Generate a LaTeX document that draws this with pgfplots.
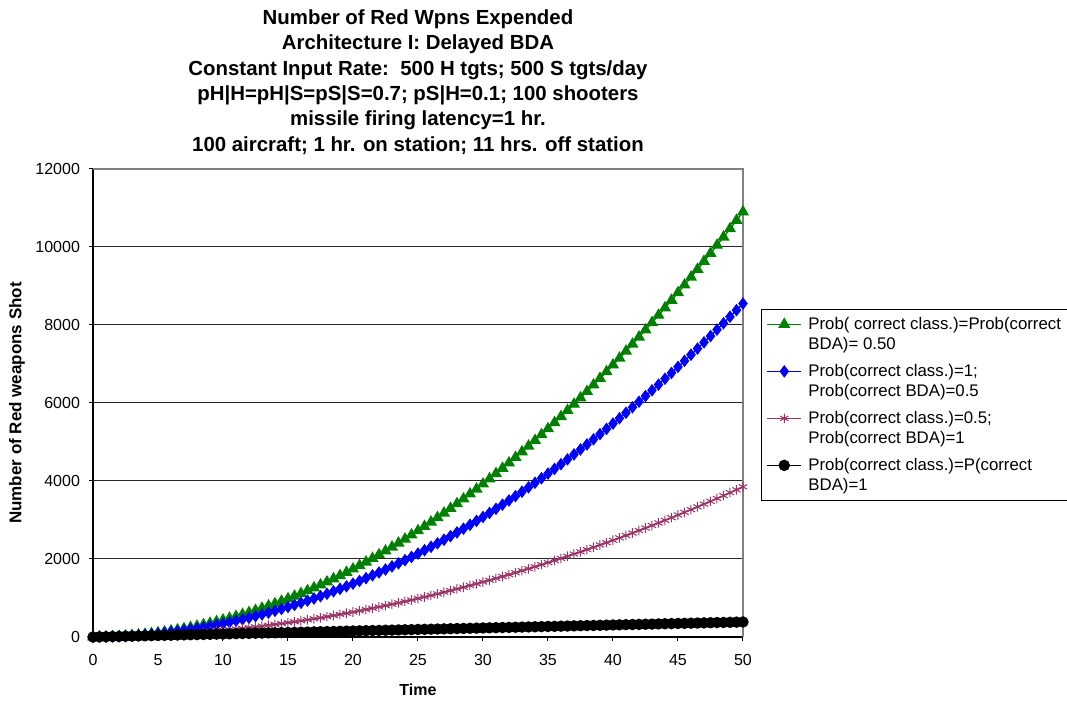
\documentclass[border=0pt]{standalone}
\usepackage{pgfplots}
\pgfplotsset{compat=1.18}
\usepackage{pgfplotstable}
\usepackage{fontspec}
\setmainfont{Liberation Sans}
\definecolor{exgreen}{RGB}{0,128,0}
\definecolor{exblue}{RGB}{0,0,255}
\definecolor{explum}{RGB}{153,51,102}
\pgfplotstableread{
x g b m k
0 0 0 0 0
0.5 1 1 1 4
1 4 3 4 8
1.5 10 8 6 12
2 17 14 10 15
2.5 27 21 14 19
3 39 31 20 23
3.5 53 42 25 27
4 70 55 32 31
4.5 88 69 39 35
5 109 86 48 39
5.5 132 103 56 42
6 157 123 66 46
6.5 184 144 76 50
7 214 168 88 54
7.5 245 192 99 58
8 279 219 112 62
8.5 315 247 125 65
9 353 277 140 69
9.5 393 309 154 73
10 436 342 170 77
10.5 481 377 186 81
11 528 414 204 85
11.5 577 452 221 89
12 628 492 240 92
12.5 681 534 259 96
13 737 578 280 100
13.5 795 623 300 104
14 855 670 322 108
14.5 917 719 344 112
15 981 770 368 116
15.5 1047 822 391 119
16 1116 876 416 123
16.5 1187 931 441 127
17 1260 988 468 131
17.5 1335 1047 494 135
18 1413 1108 522 139
18.5 1492 1170 550 142
19 1574 1235 580 146
19.5 1658 1300 609 150
20 1744 1368 640 154
20.5 1832 1437 671 158
21 1923 1508 704 162
21.5 2015 1581 736 166
22 2110 1655 770 169
22.5 2207 1731 804 173
23 2306 1809 840 177
23.5 2408 1889 875 181
24 2511 1970 912 185
24.5 2617 2053 949 189
25 2725 2138 988 193
25.5 2835 2224 1026 196
26 2947 2312 1066 200
26.5 3062 2402 1106 204
27 3178 2493 1148 208
27.5 3297 2586 1189 212
28 3418 2681 1232 216
28.5 3541 2778 1275 219
29 3667 2876 1320 223
29.5 3794 2976 1364 227
30 3924 3078 1410 231
30.5 4056 3181 1456 235
31 4190 3287 1504 239
31.5 4326 3393 1551 243
32 4465 3502 1600 246
32.5 4605 3612 1649 250
33 4748 3724 1700 254
33.5 4893 3838 1750 258
34 5040 3954 1802 262
34.5 5189 4071 1854 266
35 5341 4190 1908 270
35.5 5495 4310 1961 273
36 5651 4432 2016 277
36.5 5809 4556 2071 281
37 5969 4682 2128 285
37.5 6131 4809 2184 289
38 6296 4938 2242 293
38.5 6463 5069 2300 296
39 6632 5202 2360 300
39.5 6803 5336 2419 304
40 6976 5472 2480 308
40.5 7151 5610 2541 312
41 7329 5749 2604 316
41.5 7509 5890 2666 320
42 7691 6033 2730 323
42.5 7875 6177 2794 327
43 8062 6324 2860 331
43.5 8250 6471 2925 335
44 8441 6621 2992 339
44.5 8634 6772 3059 343
45 8829 6926 3128 347
45.5 9026 7080 3196 350
46 9226 7237 3266 354
46.5 9427 7395 3336 358
47 9631 7555 3408 362
47.5 9837 7716 3479 366
48 10045 7880 3552 370
48.5 10256 8045 3625 373
49 10468 8211 3700 377
49.5 10683 8380 3774 381
50 10900 8550 3850 385
}\datatable
\newcommand{\twoline}[2]{\begin{tabular}[b]{@{}l@{}}#1\\#2\end{tabular}}
\begin{document}
\begin{tikzpicture}
\begin{axis}[
  at={(0,0)}, anchor=south west,
  scale only axis, width=325pt, height=234pt,
  xmin=0, xmax=50, ymin=0, ymax=12000,
  xtick={0,5,...,50}, ytick={0,2000,...,12000},
  scaled y ticks=false,
  axis x line*=bottom, axis y line*=left,
  axis line style={-, black, line width=0.6pt},
  tick align=outside, major tick length=2pt,
  tick style={black, line width=0.5pt},
  ymajorgrids, grid style={black!85, line width=0.5pt},
  clip=false,
  /pgf/number format/assume math mode=true,
  /pgf/number format/1000 sep={},
  ticklabel style={font=\fontsize{8}{9.6}\selectfont},
  yticklabel style={xshift=-1pt},
  xticklabel style={yshift=-3pt},
  xlabel={Time}, ylabel={Number of Red weapons Shot},
  xlabel style={font=\fontsize{8}{10}\selectfont\bfseries, at={(axis description cs:0.5,0)}, anchor=center, yshift=-26.5pt},
  ylabel style={font=\fontsize{8.5}{10}\selectfont\bfseries, at={(axis description cs:-0.1169,0.5)}, anchor=center},
  legend style={at={(axis description cs:1,0.7009)}, anchor=north west, xshift=9pt,
    draw=black, line width=0.5pt, inner xsep=2.5pt, inner ysep=2.5pt,
    font=\fontsize{8.4}{10}\selectfont, row sep=3.6pt, column sep=2pt,
    nodes={inner xsep=1.2pt, inner ysep=0.7pt}},
  legend cell align=left,
  legend image post style={yshift=5pt},
]
\addplot[color=exgreen, line width=0.7pt, mark=triangle*, mark size=2.8pt, mark options={fill=exgreen, draw=exgreen}] table[x=x,y=g]{\datatable};
\addlegendentry{\twoline{Prob( correct class.)=Prob(correct}{BDA)= 0.50}}
\addplot[color=exblue, line width=0.7pt, mark=diamond*, mark size=2.6pt, mark options={fill=exblue, draw=exblue}] table[x=x,y=b]{\datatable};
\addlegendentry{\twoline{Prob(correct class.)=1;}{Prob(correct BDA)=0.5}}
\addplot[color=explum, line width=0.7pt, mark=asterisk, mark size=2.4pt, mark options={draw=explum, line width=0.5pt}] table[x=x,y=m]{\datatable};
\addlegendentry{\twoline{Prob(correct class.)=0.5;}{Prob(correct BDA)=1}}
\addplot[color=black, line width=0.7pt, mark=*, mark size=2.5pt, mark options={fill=black, draw=black}] table[x=x,y=k]{\datatable};
\addlegendentry{\twoline{Prob(correct class.)=P(correct}{BDA)=1}}
\draw[gray, line width=0.6pt] (rel axis cs:0,1) -- (rel axis cs:1,1) -- (rel axis cs:1,0);
\node[font=\fontsize{10.2}{12.7}\selectfont\bfseries, align=center, anchor=center] at ([yshift=43.5pt]rel axis cs:0.5,1) {Number of Red Wpns Expended\\Architecture I: Delayed BDA\\Constant Input Rate:~~500 H tgts; 500 S tgts/day\\pH|H=pH|S=pS|S=0.7; pS|H=0.1; 100 shooters\\missile firing latency=1 hr.\\100 aircraft; 1 hr. on station; 11 hrs. off station};
\end{axis}
\pgfresetboundingbox
\useasboundingbox (-46.5pt,-32.5pt) rectangle (487pt,318.5pt);
\end{tikzpicture}
\end{document}
